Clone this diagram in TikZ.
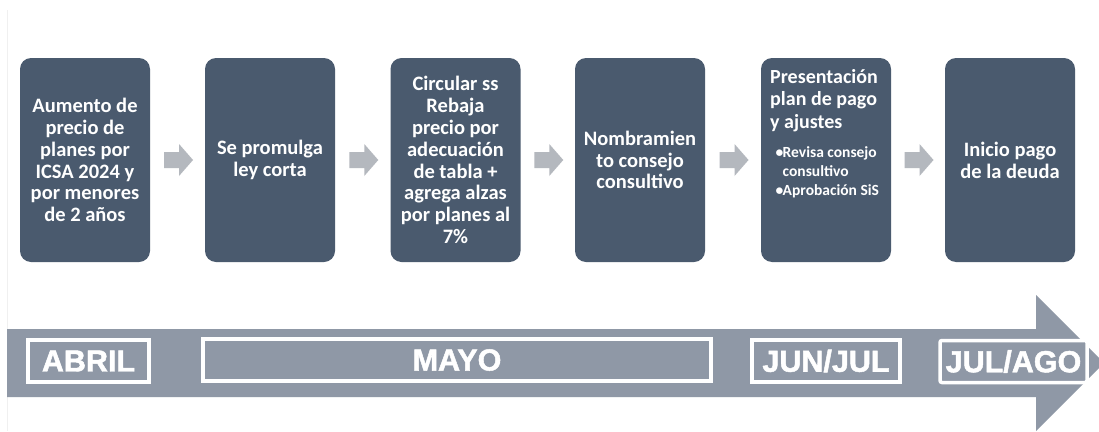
\documentclass[tikz,border=0pt]{standalone}
\usepackage{fontspec}
\setmainfont{Carlito}
\newfontface\lblfont[FakeBold=1.6]{Liberation Sans Bold}
\usetikzlibrary{calc}
\definecolor{boxc}{HTML}{4A5A6E}
\definecolor{bandc}{HTML}{8F98A6}
\definecolor{arrc}{HTML}{B4B8BE}
\begin{document}
\begin{tikzpicture}[x=1pt,y=-1pt,
  stepbox/.style={rounded corners=11pt, fill=boxc, text=white, minimum width=130pt,
    minimum height=204pt, inner sep=3pt, align=center,
    font=\bfseries\fontsize{20.5}{21.8}\selectfont},
  month/.style={draw=white, line width=3.5pt, fill=bandc, text=white, minimum height=42pt,
    inner sep=1pt, font=\lblfont\fontsize{30.5}{30.5}\selectfont},
  flow/.style={fill=arrc}]
\useasboundingbox (0,0) rectangle (1099,431);
\clip (0,0) rectangle (1099,431);
\fill[white] (0,0) rectangle (1099,431);
\draw[gray!12, line width=1pt] (7,10) -- (7,431);

% step boxes
\node[stepbox] (b1) at (85,160) {Aumento de\\precio de\\planes por\\ICSA 2024 y\\por menores\\de 2 años};
\node[stepbox] (b2) at (270,160) {Se promulga\\ley corta};
\node[stepbox] (b3) at (455.5,160) {Circular ss\\Rebaja\\precio por\\adecuación\\de tabla +\\agrega alzas\\por planes al\\7\%};
\node[stepbox] (b4) at (640,160) {Nombramien\\to consejo\\consultivo};
\node[stepbox] (b5) at (826,160) {};
\node[stepbox] (b6) at (1010,160) {Inicio pago\\de la deuda};

\node[anchor=north west, inner sep=0pt, align=left, text=white,
  font=\bfseries\fontsize{20}{22.5}\selectfont] (t5) at (770,69)
  {Presentación\\plan de pago\\y ajustes};
\node[anchor=north west, inner sep=0pt, align=left, text=white,
  font=\bfseries\fontsize{15.5}{19}\selectfont] (u5) at (775.5,146)
  {\makebox[7pt][l]{•}Revisa consejo\\\hspace*{7pt}consultivo\\\makebox[7pt][l]{•}Aprobación SiS};

% small arrows between steps
\foreach \a/\b in {b1/b2,b2/b3,b3/b4,b4/b5,b5/b6}{
  \coordinate (m) at ($(\a.east)!0.5!(\b.west)$);
  \fill[flow] ($(m)+(-13.5,-8)$) -- ++(15,0) -- ++(0,-8) -- ++(14,16) -- ++(-14,16)
    -- ++(0,-8) -- ++(-15,0) -- cycle;
}

% timeline arrow
\fill[bandc] (7,329) -- (1036,329) -- (1036,295) -- (1104,363) -- (1036,431)
  -- (1036,397) -- (7,397) -- cycle;

\node[month, minimum width=121pt] (abr) at (88.5,361) {ABRIL};
\node[month, minimum width=508pt] (may) at (457,360) {MAYO};
\node[month, minimum width=148pt] (jun) at (826,361) {JUN/JUL};
\node[month, minimum width=147pt, rounded corners=2pt] (jul) at (1013.5,361.5) {JUL/AGO};
\end{tikzpicture}
\end{document}
